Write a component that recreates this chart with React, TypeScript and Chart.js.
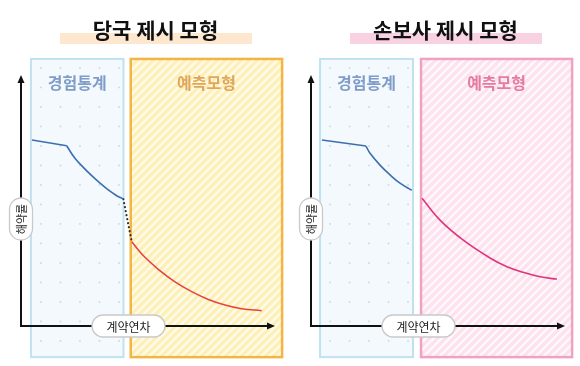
import React, { useEffect, useRef } from "react";
import Chart from "chart.js/auto";

// ---- data (x = contract year, y = lapse rate index) ----
const X_MIN = 0;
const X_MAX = 25;
const Y_MIN = 0;
const Y_MAX = 100;

// left panel (당국 제시 모형)
const leftPlateauYears = [1.08, 4.5];
const leftPlateauRates = [74.1, 71.8];
const leftExperienceYears = [4.5, 5.31, 6.13, 6.96, 7.78, 8.59, 9.42, 10.07];
const leftExperienceRates = [71.8, 66.8, 63.2, 59.9, 56.9, 54.2, 51.9, 50.6];
const leftBridgeYears = [10.07, 10.9];
const leftBridgeRates = [50.6, 33.6];
const leftForecastYears = [10.9, 11.55, 12.2, 13.51, 15.16, 16.8, 18.44, 20.08, 21.72, 23.69];
const leftForecastRates = [33.6, 30.3, 27.4, 22.6, 17.6, 13.7, 10.6, 8.4, 6.9, 6.1];

// right panel (손보사 제시 모형)
const rightPlateauYears = [1.08, 5.41];
const rightPlateauRates = [74.1, 71.7];
const rightExperienceYears = [5.41, 5.81, 6.79, 7.78, 8.76, 9.91];
const rightExperienceRates = [71.7, 68.8, 64.1, 60.2, 56.9, 54.1];
const rightForecastYears = [10.93, 12.7, 14.96, 17.62, 19.29, 20.87, 22.54, 24.21];
const rightForecastRates = [50.9, 42.2, 34.3, 27.1, 23.6, 21.4, 19.6, 18.7];

const leftExperienceZone = [0.98, 10.09];
const leftForecastZone = [10.8, 25.7];
const rightExperienceZone = [0.89, 10.04];
const rightForecastZone = [10.83, 25.7];
const zoneRates = [-12.4, 106.4];

const titles = ["당국 제시 모형", "손보사 제시 모형"];
const zoneLabels = ["경험통계", "예측모형"];
const xAxisLabel = "계약연차";
const yAxisLabel = "해약률";

const FONT = "'Noto Sans CJK KR', 'Noto Sans', sans-serif";

type PanelCfg = {
  title: string;
  bandColor: string;
  expZone: number[];
  fcZone: number[];
  fcBorder: string;
  fcStripe: string;
  fcBg: string;
  fcLabelColor: string;
};

const pts = (xs: number[], ys: number[]) => xs.map((x, i) => ({ x, y: ys[i] }));

function roundRect(ctx: CanvasRenderingContext2D, x: number, y: number, w: number, h: number, r: number) {
  ctx.beginPath();
  ctx.moveTo(x + r, y);
  ctx.lineTo(x + w - r, y);
  ctx.arc(x + w - r, y + r, r, -Math.PI / 2, 0);
  ctx.lineTo(x + w, y + h - r);
  ctx.arc(x + w - r, y + h - r, r, 0, Math.PI / 2);
  ctx.lineTo(x + r, y + h);
  ctx.arc(x + r, y + h - r, r, Math.PI / 2, Math.PI);
  ctx.lineTo(x, y + r);
  ctx.arc(x + r, y + r, r, Math.PI, Math.PI * 1.5);
  ctx.closePath();
}

function makePlugin(cfg: PanelCfg) {
  return {
    id: "panelDecor",
    beforeDatasetsDraw(chart: any) {
      const ctx: CanvasRenderingContext2D = chart.ctx;
      const xs = chart.scales.x;
      const ys = chart.scales.y;
      const top = ys.getPixelForValue(zoneRates[1]);
      const bottom = ys.getPixelForValue(zoneRates[0]);
      const h = bottom - top;

      // title band + title
      ctx.save();
      ctx.fillStyle = cfg.bandColor;
      ctx.fillRect(60, 33, 192, 11);
      ctx.fillStyle = "#111";
      ctx.font = `bold 21px ${FONT}`;
      ctx.textAlign = "center";
      ctx.textBaseline = "middle";
      ctx.fillText(cfg.title, 155.5, 30);
      ctx.restore();

      // experience zone
      const eL = xs.getPixelForValue(cfg.expZone[0]);
      const eR = xs.getPixelForValue(cfg.expZone[1]);
      ctx.save();
      ctx.fillStyle = "#f3f9fd";
      ctx.fillRect(eL, top, eR - eL, h);
      ctx.fillStyle = "#ccd6df";
      for (let yy = top + 9; yy < bottom - 3; yy += 19.5) {
        for (let xx = eL + 10; xx < eR - 3; xx += 19.5) {
          ctx.beginPath();
          ctx.arc(xx, yy, 0.9, 0, Math.PI * 2);
          ctx.fill();
        }
      }
      ctx.strokeStyle = "#bfe2f2";
      ctx.lineWidth = 2;
      ctx.strokeRect(eL, top, eR - eL, h);
      ctx.fillStyle = "#7f9dc8";
      ctx.font = `bold 16px ${FONT}`;
      ctx.textAlign = "center";
      ctx.textBaseline = "middle";
      ctx.fillText(zoneLabels[0], (eL + eR) / 2, top + 24);
      ctx.restore();

      // forecast zone
      const fL = xs.getPixelForValue(cfg.fcZone[0]);
      const fR = xs.getPixelForValue(cfg.fcZone[1]);
      ctx.save();
      ctx.fillStyle = cfg.fcBg;
      ctx.fillRect(fL, top, fR - fL, h);
      ctx.beginPath();
      ctx.rect(fL, top, fR - fL, h);
      ctx.clip();
      ctx.strokeStyle = cfg.fcStripe;
      ctx.lineWidth = 3.2;
      for (let o = -h; o < fR - fL + 10; o += 8) {
        ctx.beginPath();
        ctx.moveTo(fL + o, bottom);
        ctx.lineTo(fL + o + h, top);
        ctx.stroke();
      }
      ctx.restore();
      ctx.save();
      ctx.strokeStyle = cfg.fcBorder;
      ctx.lineWidth = 2.5;
      ctx.strokeRect(fL, top, fR - fL, h);
      ctx.fillStyle = cfg.fcLabelColor;
      ctx.font = `bold 16px ${FONT}`;
      ctx.textAlign = "center";
      ctx.textBaseline = "middle";
      ctx.fillText(zoneLabels[1], (fL + fR) / 2, top + 24);
      ctx.restore();
    },
    afterDatasetsDraw(chart: any) {
      const ctx: CanvasRenderingContext2D = chart.ctx;
      const a = chart.chartArea;
      ctx.save();
      ctx.strokeStyle = "#111";
      ctx.fillStyle = "#111";
      ctx.lineWidth = 2;
      // y axis
      ctx.beginPath();
      ctx.moveTo(a.left, a.bottom);
      ctx.lineTo(a.left, a.top + 6);
      ctx.stroke();
      ctx.beginPath();
      ctx.moveTo(a.left, a.top);
      ctx.lineTo(a.left - 3.5, a.top + 8);
      ctx.lineTo(a.left + 3.5, a.top + 8);
      ctx.closePath();
      ctx.fill();
      // x axis
      ctx.beginPath();
      ctx.moveTo(a.left - 1, a.bottom);
      ctx.lineTo(a.right - 6, a.bottom);
      ctx.stroke();
      ctx.beginPath();
      ctx.moveTo(a.right, a.bottom);
      ctx.lineTo(a.right - 8, a.bottom - 3.5);
      ctx.lineTo(a.right - 8, a.bottom + 3.5);
      ctx.closePath();
      ctx.fill();

      // y label pill
      const yc = 219;
      roundRect(ctx, a.left - 11.5, yc - 21, 23, 42, 11.5);
      ctx.fillStyle = "#fff";
      ctx.fill();
      ctx.strokeStyle = "#c9c9c9";
      ctx.lineWidth = 1.3;
      ctx.stroke();
      ctx.save();
      ctx.translate(a.left, yc);
      ctx.rotate(-Math.PI / 2);
      ctx.fillStyle = "#222";
      ctx.font = `11px ${FONT}`;
      ctx.textAlign = "center";
      ctx.textBaseline = "middle";
      ctx.fillText(yAxisLabel, 0, 1);
      ctx.restore();

      // x label pill
      const xc = 128.5;
      roundRect(ctx, xc - 36.5, a.bottom - 11, 73, 22, 11);
      ctx.fillStyle = "#fff";
      ctx.fill();
      ctx.strokeStyle = "#c9c9c9";
      ctx.lineWidth = 1.3;
      ctx.stroke();
      ctx.fillStyle = "#222";
      ctx.font = `12px ${FONT}`;
      ctx.textAlign = "center";
      ctx.textBaseline = "middle";
      ctx.fillText(xAxisLabel, xc, a.bottom + 1);
      ctx.restore();
    },
  };
}

function makeConfig(datasets: any[], cfg: PanelCfg): any {
  return {
    type: "line",
    data: { datasets },
    options: {
      animation: false,
      responsive: false,
      events: [],
      layout: { padding: { left: 21, right: 15, top: 75, bottom: 40 } },
      plugins: { legend: { display: false }, tooltip: { enabled: false }, title: { display: false } },
      scales: {
        x: { type: "linear", min: X_MIN, max: X_MAX, display: false },
        y: { type: "linear", min: Y_MIN, max: Y_MAX, display: false },
      },
      elements: { point: { radius: 0 } },
    },
    plugins: [makePlugin(cfg)],
  };
}

const lineDs = (data: any[], color: string, extra: any = {}) => ({
  data,
  borderColor: color,
  borderWidth: 1.6,
  fill: false,
  pointRadius: 0,
  tension: 0.4,
  clip: false,
  ...extra,
});

export default function App() {
  const leftRef = useRef<HTMLCanvasElement>(null);
  const rightRef = useRef<HTMLCanvasElement>(null);

  useEffect(() => {
    const leftCfg: PanelCfg = {
      title: titles[0],
      bandColor: "#fde7cf",
      expZone: leftExperienceZone,
      fcZone: leftForecastZone,
      fcBorder: "#f3b544",
      fcStripe: "#fdefb6",
      fcBg: "#fffbea",
      fcLabelColor: "#dfa65c",
    };
    const rightCfg: PanelCfg = {
      title: titles[1],
      bandColor: "#f8d2e1",
      expZone: rightExperienceZone,
      fcZone: rightForecastZone,
      fcBorder: "#f0a2c1",
      fcStripe: "#fde1ec",
      fcBg: "#fff8fb",
      fcLabelColor: "#e47ba0",
    };
    const left = new Chart(
      leftRef.current!,
      makeConfig(
        [
          lineDs(pts(leftPlateauYears, leftPlateauRates), "#3d6fb0", { tension: 0 }),
          lineDs(pts(leftExperienceYears, leftExperienceRates), "#3d6fb0"),
          lineDs(pts(leftBridgeYears, leftBridgeRates), "#333", {
            borderDash: [0.1, 4],
            borderCapStyle: "round",
            borderWidth: 2.2,
            tension: 0,
          }),
          lineDs(pts(leftForecastYears, leftForecastRates), "#e8433d"),
        ],
        leftCfg
      )
    );
    const right = new Chart(
      rightRef.current!,
      makeConfig(
        [
          lineDs(pts(rightPlateauYears, rightPlateauRates), "#3d6fb0", { tension: 0 }),
          lineDs(pts(rightExperienceYears, rightExperienceRates), "#3d6fb0"),
          lineDs(pts(rightForecastYears, rightForecastRates), "#e0347f"),
        ],
        rightCfg
      )
    );
    return () => {
      left.destroy();
      right.destroy();
    };
  }, []);

  return (
    <div style={{ position: "absolute", left: 0, top: 0, width: 580, height: 366, background: "#fff" }}>
      <canvas ref={leftRef} width={290} height={366} style={{ position: "absolute", left: 0, top: 0 }} />
      <canvas ref={rightRef} width={290} height={366} style={{ position: "absolute", left: 290, top: 0 }} />
    </div>
  );
}
